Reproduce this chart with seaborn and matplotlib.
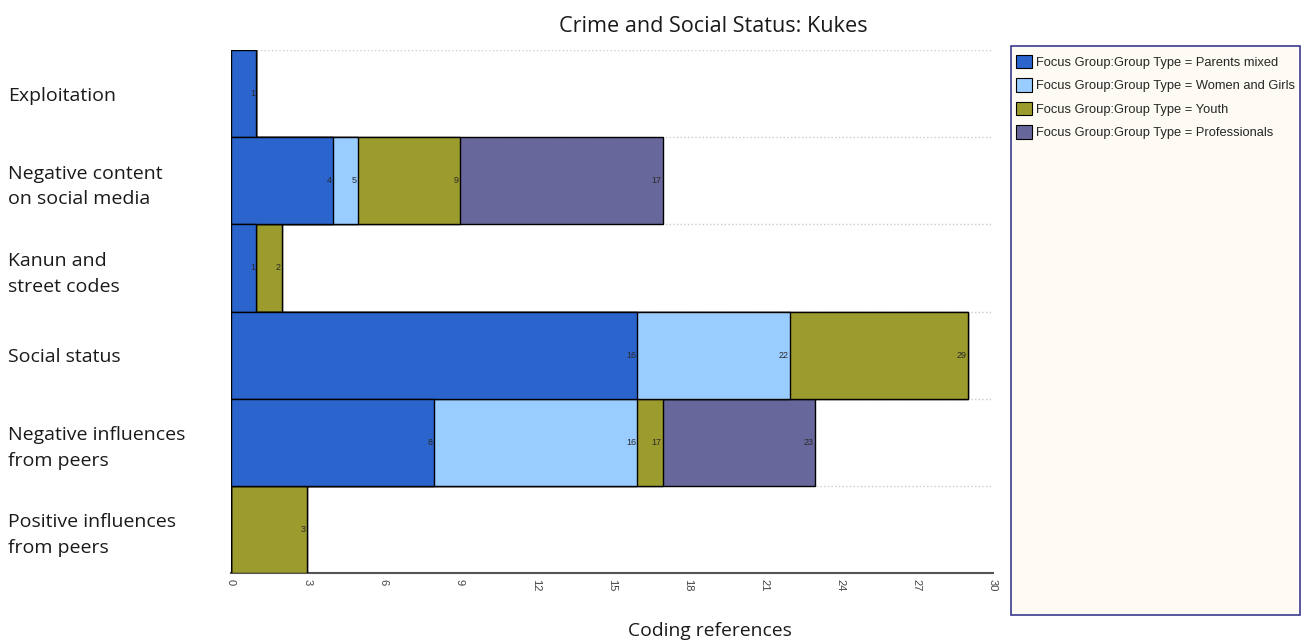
import numpy as np
import pandas as pd
import matplotlib
matplotlib.use("Agg")
import matplotlib.pyplot as plt
import seaborn as sns
from matplotlib.patches import Patch, Rectangle

# ---- data ----
categories = ["Exploitation", "Negative content\non social media", "Kanun and\nstreet codes",
              "Social status", "Negative influences\nfrom peers", "Positive influences\nfrom peers"]
groups = ["Parents mixed", "Women and Girls", "Youth", "Professionals"]
parents_mixed = [1, 4, 1, 16, 8, 0]
women_and_girls = [0, 1, 0, 6, 8, 0]
youth = [0, 4, 1, 7, 1, 3]
professionals = [0, 8, 0, 0, 6, 0]
x_ticks = list(range(0, 31, 3))

colors = ["#2b64cd", "#99ccff", "#9b9b2e", "#67679c"]

df = pd.DataFrame({"category": categories, "Parents mixed": parents_mixed,
                   "Women and Girls": women_and_girls, "Youth": youth,
                   "Professionals": professionals})
# cumulative totals, so the stack can be drawn as overlapping bars
cum = df[groups].cumsum(axis=1)
cum["category"] = df["category"]

sns.set_style("white")
plt.rcParams["font.family"] = ["Liberation Sans", "DejaVu Sans"]

fig = plt.figure(figsize=(13.07, 6.44), dpi=100)
ax = fig.add_axes([231 / 1307, 1 - 573 / 644, (993 - 231) / 1307, (573 - 50) / 644])

# draw the longest first so shorter segments sit on top
for g, c in reversed(list(zip(groups, colors))):
    sns.barplot(data=cum, x=g, y="category", orient="h", color=c, saturation=1,
                width=1.0, edgecolor="black", linewidth=1, ax=ax, zorder=3)

# segment labels: running total at the right end of each non-empty segment
for i, cat in enumerate(categories):
    for g in groups:
        if df.loc[i, g] > 0:
            ax.text(cum.loc[i, g] - 0.05, i, str(cum.loc[i, g]), ha="right", va="center",
                    fontsize=6.5, color="#2a2a2a", zorder=5)

ax.set_xlim(0, 30)
ax.set_ylim(5.5, -0.5)
ax.set_xticks(x_ticks)
ax.set_xticklabels([str(t) for t in x_ticks], rotation=270, fontsize=8, color="#444444")
ax.tick_params(axis="x", length=0, pad=4)

ax.set_yticks(range(len(categories)))
ax.set_yticklabels(categories, ha="left", fontsize=14, family=["Open Sans", "DejaVu Sans"],
                   color="#1a1a1a", linespacing=1.55)
ax.tick_params(axis="y", length=0, pad=(231 - 8) * 0.72)
ax.set_xlabel("")
ax.set_ylabel("")

ax.set_yticks(np.arange(-0.5, 5, 1), minor=True)
ax.grid(axis="y", which="minor", color="#cccccc", linestyle=":", linewidth=1, zorder=0)
ax.grid(axis="y", which="major", visible=False)
ax.grid(axis="x", visible=False)
ax.tick_params(axis="y", which="minor", length=0)

for s in ["top", "right", "left"]:
    ax.spines[s].set_visible(False)
ax.spines["bottom"].set_color("#555555")
ax.spines["bottom"].set_linewidth(1.5)

fig.text(713 / 1307, 1 - 26 / 644, "Crime and Social Status: Kukes", ha="center", va="center",
         fontsize=15.6, family=["Open Sans", "DejaVu Sans"], color="#1a1a1a")
fig.text(710 / 1307, 1 - 631 / 644, "Coding references", ha="center", va="center",
         fontsize=13.9, family=["Open Sans", "DejaVu Sans"], color="#1a1a1a")

# legend box
box = Rectangle((1011 / 1307, 1 - 615 / 644), (1300 - 1011) / 1307, (615 - 46) / 644,
                transform=fig.transFigure, facecolor="#fdfbf3", edgecolor="#3c3a8e",
                linewidth=1.2, zorder=0)
fig.patches.append(box)

handles = [Patch(facecolor=c, edgecolor="black", linewidth=0.8,
                 label=f"Focus Group:Group Type = {g}") for g, c in zip(groups, colors)]
fig.legend(handles=handles, loc="upper left", bbox_to_anchor=(1013 / 1307, 1 - 52 / 644),
           frameon=False, fontsize=9.3, handlelength=1.25, handleheight=1.25,
           labelspacing=0.72, handletextpad=0.3, borderpad=0.2, borderaxespad=0)

fig.savefig("out.png", dpi=100)
